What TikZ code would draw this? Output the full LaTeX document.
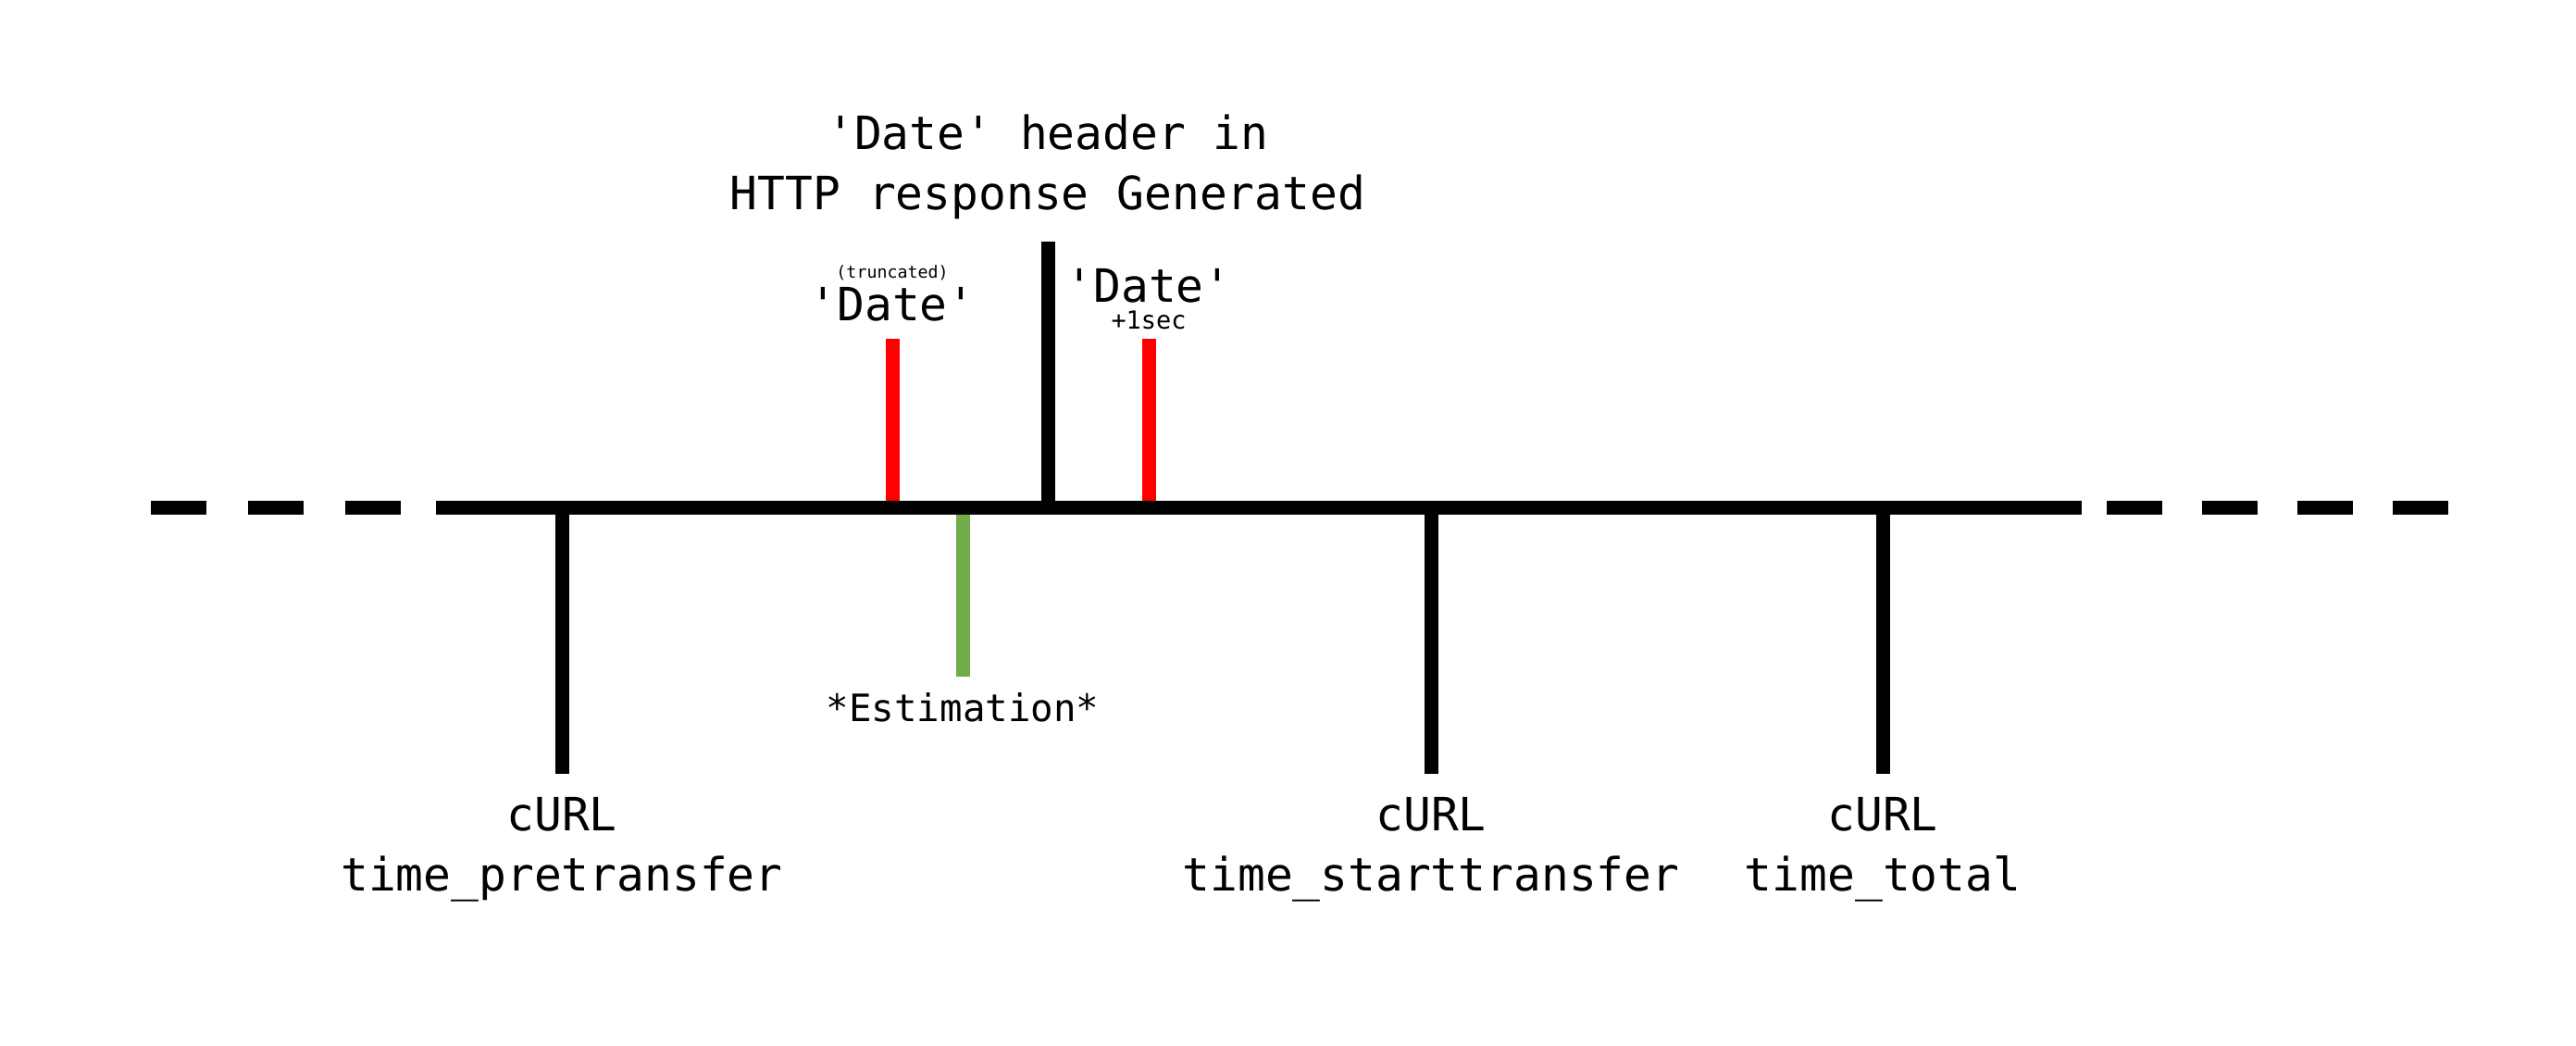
\documentclass[tikz,border=0pt]{standalone}
\usepackage{fontspec}
\setmonofont{DejaVu Sans Mono}
\definecolor{estgreen}{HTML}{70AD47}
\tikzset{
  bar/.style={line width=0.15cm},
  lbl/.style={font=\ttfamily\fontsize{14.1}{18.5}\selectfont, align=center, anchor=base, inner sep=0pt},
  lbl mid/.style={lbl, font=\ttfamily\fontsize{11.6}{14}\selectfont},
  lbl small/.style={lbl, font=\ttfamily\fontsize{7.65}{9}\selectfont},
  lbl tiny/.style={lbl, font=\ttfamily\fontsize{5.2}{6}\selectfont}
}
\begin{document}
\begin{tikzpicture}
\useasboundingbox (0,0) rectangle (27.83,11.30);
%\draw[step=1cm,gray,very thin] (0,0) grid (27.83,11.30); %background grid
% points on the time line
\coordinate (pre) at (6.07,5.815);
\coordinate (pre end) at (6.07,2.94);
\coordinate (est) at (10.40,5.74);
\coordinate (est end) at (10.40,3.99);
\coordinate (dold) at (9.64,5.89);
\coordinate (dold top) at (9.64,7.64);
\coordinate (hdr) at (11.32,5.815);
\coordinate (hdr top) at (11.32,8.69);
\coordinate (dnew) at (12.41,5.89);
\coordinate (dnew top) at (12.41,7.64);
\coordinate (start) at (15.46,5.815);
\coordinate (start end) at (15.46,2.94);
\coordinate (total) at (20.34,5.815);
\coordinate (total end) at (20.34,2.94);
% time line
\draw[bar,dash pattern=on 0.6cm off 0.45cm] (1.63,5.815) -- (4.33,5.815);
\draw[bar] (4.71,5.815) -- (22.49,5.815);
\draw[bar,dash pattern=on 0.6cm off 0.43cm] (22.76,5.815) -- (26.45,5.815);
% marks
\draw[bar] (pre) -- (pre end);
\draw[bar] (start) -- (start end);
\draw[bar] (total) -- (total end);
\draw[bar] (hdr) -- (hdr top);
\draw[bar,red] (dold) -- (dold top);
\draw[bar,red] (dnew) -- (dnew top);
\draw[bar,estgreen] (est) -- (est end);
% labels (base = last line)
\node[lbl] (hdr lbl) at (11.32,9.03) {'Date' header in\\HTTP response Generated};
\node[lbl tiny] (trunc lbl) at (9.64,8.29) {(truncated)};
\node[lbl] (dold lbl) at (9.64,7.83) {'Date'};
\node[lbl] (dnew lbl) at (12.41,8.03) {'Date'};
\node[lbl small] (sec lbl) at (12.41,7.74) {+1sec};
\node[lbl mid] (est lbl) at (10.40,3.50) {*Estimation*};
\node[lbl] (pre lbl) at (6.07,1.67) {cURL\\time\_pretransfer};
\node[lbl] (start lbl) at (15.46,1.67) {cURL\\time\_starttransfer};
\node[lbl] (total lbl) at (20.34,1.67) {cURL\\time\_total};
\end{tikzpicture}
\end{document}
